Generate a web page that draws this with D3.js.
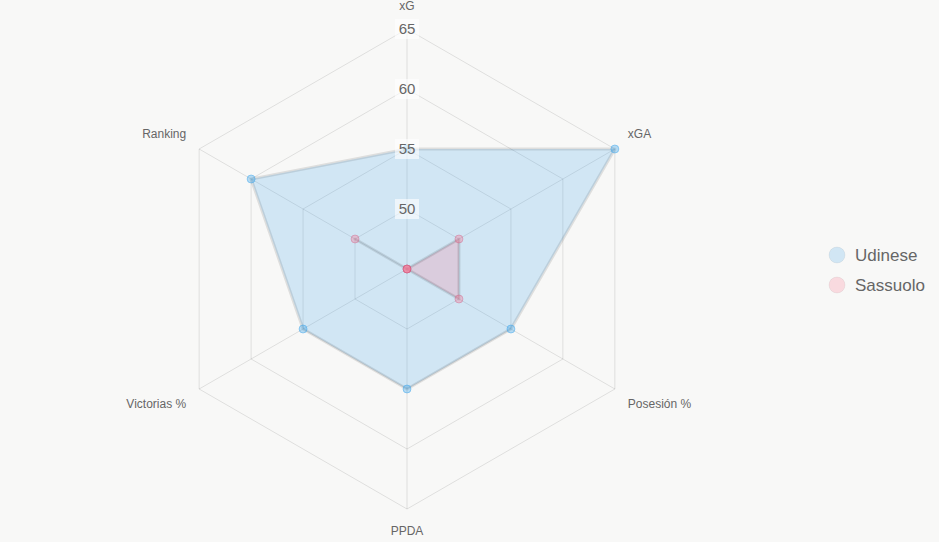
<!DOCTYPE html>
<html>
<head>
<meta charset="utf-8">
<script src="https://cdn.jsdelivr.net/npm/d3@7"></script>
<style>
  body { margin: 0; background: #f8f8f7; }
  svg { display: block; font-family: 'Liberation Sans', Arial, sans-serif; }
</style>
</head>
<body>
<div class="canvas"></div>
<script>
const axes = ['xG', 'xGA', 'Posesión %', 'PPDA', 'Victorias %', 'Ranking']
const teams = ['Udinese', 'Sassuolo']
const udinese = [55, 65, 55, 55, 55, 60]
const sassuolo = [45, 50, 50, 45, 45, 50]
const ticks = [50, 55, 60, 65]

const W = 939, H = 542
const cx = 407, cy = 269
const R = 240

const svg = d3.select('.canvas').append('svg').attr('width', W).attr('height', H)

const r = d3.scaleLinear().domain([45, 65]).range([0, R])
const angle = d3.scaleLinear().domain([0, axes.length]).range([0, 2 * Math.PI])

const pt = (i, v) => {
    const a = angle(i) - Math.PI / 2
    return [cx + r(v) * Math.cos(a), cy + r(v) * Math.sin(a)]
}

const g = svg.append('g')

// grid rings
g.selectAll('.ring').data(ticks).enter().append('polygon')
    .attr('points', t => axes.map((d, i) => pt(i, t).join(',')).join(' '))
    .attr('fill', 'none')
    .attr('stroke', 'rgba(0,0,0,0.1)')
    .attr('stroke-width', 1)

// spokes
g.selectAll('.spoke').data(axes).enter().append('line')
    .attr('x1', cx).attr('y1', cy)
    .attr('x2', (d, i) => pt(i, 65)[0])
    .attr('y2', (d, i) => pt(i, 65)[1])
    .attr('stroke', 'rgba(0,0,0,0.1)')

// point labels
g.selectAll('.plabel').data(axes).enter().append('text')
    .attr('x', (d, i) => {
        const a = angle(i) - Math.PI / 2
        return cx + (R + 15) * Math.cos(a)
    })
    .attr('y', (d, i) => {
        const a = angle(i) - Math.PI / 2
        return cy + (R + 15) * Math.sin(a)
    })
    .attr('text-anchor', (d, i) => {
        const c = Math.cos(angle(i) - Math.PI / 2)
        return Math.abs(c) < 0.01 ? 'middle' : (c > 0 ? 'start' : 'end')
    })
    .attr('dy', (d, i) => {
        const s = Math.sin(angle(i) - Math.PI / 2)
        return Math.abs(s) < 0.01 ? '0.35em' : (s < 0 ? '-0.3em' : '0.95em')
    })
    .attr('font-size', 12)
    .attr('fill', '#666')
    .text(d => d)

const series = [
    { name: teams[0], values: udinese, fill: 'rgba(54,162,235,0.2)', point: 'rgba(54,162,235,0.35)', pstroke: 'rgba(54,162,235,0.45)' },
    { name: teams[1], values: sassuolo, fill: 'rgba(255,99,132,0.2)', point: 'rgba(255,99,132,0.3)', pstroke: 'rgba(200,80,120,0.35)' }
]

const line = d3.lineRadial()
    .angle((d, i) => angle(i))
    .radius(d => r(d))
    .curve(d3.curveLinearClosed)

series.forEach(s => {
    g.append('path')
        .attr('transform', `translate(${cx},${cy})`)
        .attr('d', line(s.values))
        .attr('fill', s.fill)
        .attr('stroke', 'rgba(0,0,0,0.1)')
        .attr('stroke-width', 3)
        .attr('stroke-linejoin', 'round')

    g.selectAll(null).data(s.values).enter().append('circle')
        .attr('cx', (d, i) => pt(i, d)[0])
        .attr('cy', (d, i) => pt(i, d)[1])
        .attr('r', 4)
        .attr('fill', s.point)
        .attr('stroke', s.pstroke)
        .attr('stroke-width', 1)
})

// tick labels with backdrop
const tg = g.selectAll('.tick').data(ticks).enter().append('g')
    .attr('transform', t => `translate(${cx},${cy - r(t)})`)
tg.append('rect')
    .attr('x', -12).attr('y', -10).attr('width', 24).attr('height', 20)
    .attr('fill', 'rgba(255,255,255,0.6)')
tg.append('text')
    .attr('text-anchor', 'middle')
    .attr('dy', '0.35em')
    .attr('font-size', 15)
    .attr('fill', '#666')
    .text(t => t)

// legend
const lg = svg.append('g').attr('transform', 'translate(837,255)')
const li = lg.selectAll('g').data(series).enter().append('g')
    .attr('transform', (d, i) => `translate(0,${i * 30})`)
li.append('circle')
    .attr('r', 8)
    .attr('fill', d => d.fill)
    .attr('stroke', 'rgba(0,0,0,0.05)')
    .attr('stroke-width', 1)
li.append('text')
    .attr('x', 18)
    .attr('dy', '0.35em')
    .attr('font-size', 17)
    .attr('fill', '#666')
    .text(d => d.name)
</script>
</body>
</html>
